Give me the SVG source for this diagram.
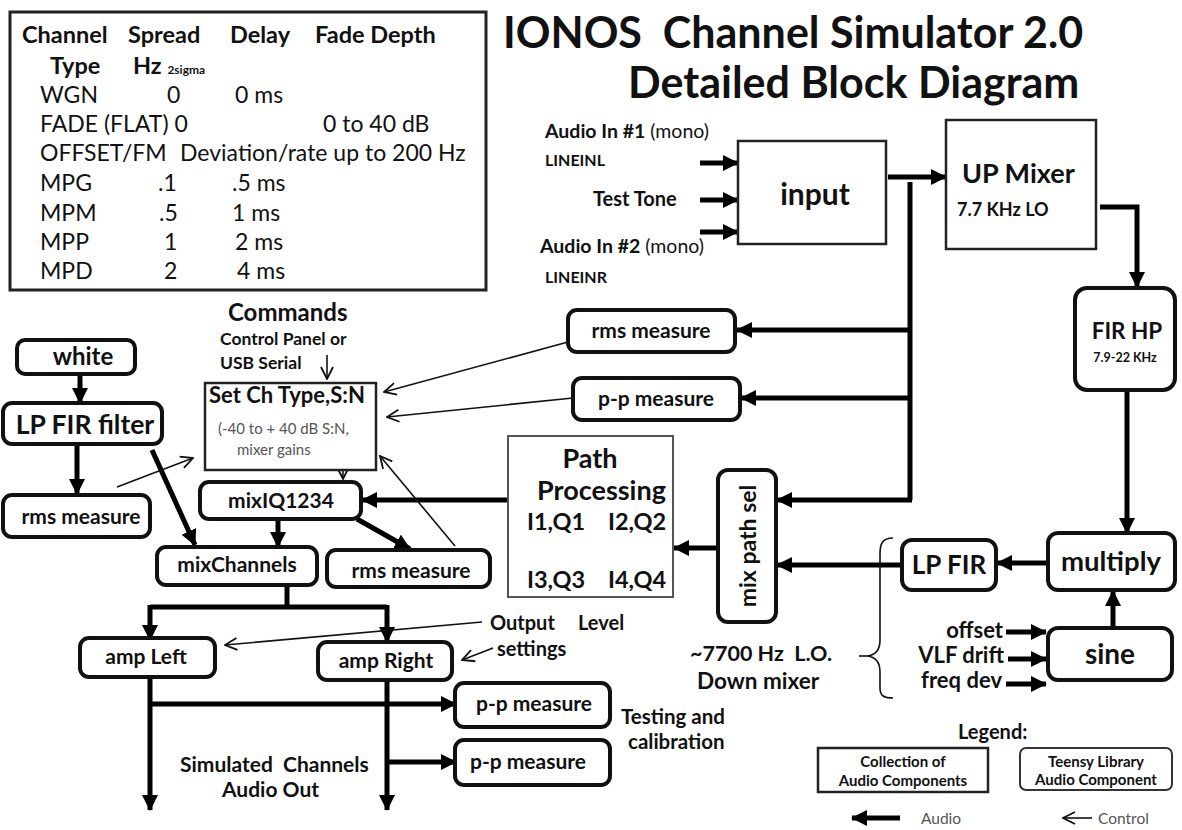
<svg xmlns="http://www.w3.org/2000/svg" width="1182" height="830" viewBox="0 0 1182 830">
  <style>
    text { font-family: Lato, "Liberation Sans", sans-serif; fill: #111; }
    .b { font-weight: bold; }
    .tbl { font-size: 23px; fill: #222; }
    .hdr { font-size: 23.5px; font-weight: bold; }
    .rbox { fill: #fff; stroke: #111; stroke-width: 4; }
    .sbox { fill: #fff; stroke: #222; stroke-width: 2.5; }
    .gbox { fill: #fff; stroke: #555; stroke-width: 2; }
    .audio { fill: none; stroke: #000; stroke-width: 5; }
    .ctl { fill: none; stroke: #111; stroke-width: 1.6; }
    .lbl { font-size: 21px; font-weight: bold; text-anchor: middle; }
    .gray { fill: #555; }
  </style>
  <defs>
    <marker id="ah" markerUnits="userSpaceOnUse" markerWidth="16" markerHeight="16" refX="15" refY="8" orient="auto">
      <path d="M0,0 L16,8 L0,16 z" fill="#000"/>
    </marker>
    <marker id="ch" markerUnits="userSpaceOnUse" markerWidth="14" markerHeight="14" refX="13" refY="7" orient="auto">
      <path d="M1,1 L13,7 L1,13" fill="none" stroke="#111" stroke-width="1.8"/>
    </marker>
  </defs>

  <rect width="1182" height="830" fill="#fff"/>

  <!-- channel type table -->
  <g id="channel-table">
    <rect x="10" y="12" width="476" height="278" fill="#fff" stroke="#222" stroke-width="3"/>
    <text class="hdr" x="22" y="43">Channel</text>
    <text class="hdr" x="128" y="43">Spread</text>
    <text class="hdr" x="230" y="43">Delay</text>
    <text class="hdr" x="315" y="43">Fade Depth</text>
    <text class="hdr" x="50" y="74">Type</text>
    <text class="hdr" x="133" y="74">Hz <tspan font-size="12">2sigma</tspan></text>
    <g class="tbl">
      <text x="40" y="103">WGN</text><text x="167" y="103">0</text><text x="235" y="103">0 ms</text>
      <text x="40" y="132">FADE (FLAT) 0</text><text x="323" y="132">0 to 40 dB</text>
      <text x="40" y="161">OFFSET/FM</text><text x="180" y="161">Deviation/rate up to 200 Hz</text>
      <text x="40" y="191">MPG</text><text x="158" y="191">.1</text><text x="232" y="191">.5 ms</text>
      <text x="40" y="221">MPM</text><text x="159" y="221">.5</text><text x="232" y="221">1 ms</text>
      <text x="40" y="250">MPP</text><text x="164" y="250">1</text><text x="235" y="250">2 ms</text>
      <text x="40" y="279">MPD</text><text x="164" y="279">2</text><text x="237" y="279">4 ms</text>
    </g>
  </g>

  <!-- title -->
  <g id="title">
    <text class="b" x="503" y="48" font-size="43" xml:space="preserve">IONOS  Channel Simulator 2.0</text>
    <text class="b" x="628" y="98" font-size="43">Detailed Block Diagram</text>
  </g>

  <!-- connectors -->
  <g id="connectors">
    <!-- audio paths -->
    <path class="audio" d="M700,163 H738" marker-end="url(#ah)"/>
    <path class="audio" d="M700,200 H738" marker-end="url(#ah)"/>
    <path class="audio" d="M700,232 H738" marker-end="url(#ah)"/>
    <path class="audio" d="M888,177 H946" marker-end="url(#ah)"/>
    <path class="audio" d="M910,182 V500"/>
    <path class="audio" d="M912,330 H737" marker-end="url(#ah)"/>
    <path class="audio" d="M912,398 H741" marker-end="url(#ah)"/>
    <path class="audio" d="M912,500 H777" marker-end="url(#ah)"/>
    <path class="audio" d="M1100,207 H1137 V287" marker-end="url(#ah)"/>
    <path class="audio" d="M1127,390 V533" marker-end="url(#ah)"/>
    <path class="audio" d="M1113,628 V591" marker-end="url(#ah)"/>
    <path class="audio" d="M1048,563 H997" marker-end="url(#ah)"/>
    <path class="audio" d="M902,565 H777" marker-end="url(#ah)"/>
    <path class="audio" d="M718,548 H674" marker-end="url(#ah)"/>
    <path class="audio" d="M508,500 H362" marker-end="url(#ah)"/>
    <path class="audio" d="M80,373 V403" marker-end="url(#ah)"/>
    <path class="audio" d="M77,444 V494" marker-end="url(#ah)"/>
    <path class="audio" d="M152,450 L195,545" marker-end="url(#ah)"/>
    <path class="audio" d="M278,519 V547" marker-end="url(#ah)"/>
    <path class="audio" d="M357,519 L410,549" marker-end="url(#ah)"/>
    <path class="audio" d="M287,585 V607"/>
    <path class="audio" d="M150,607 H387"/>
    <path class="audio" d="M150,605 V640" marker-end="url(#ah)"/>
    <path class="audio" d="M387,605 V642" marker-end="url(#ah)"/>
    <path class="audio" d="M150,677 V810" marker-end="url(#ah)"/>
    <path class="audio" d="M387,680 V810" marker-end="url(#ah)"/>
    <path class="audio" d="M150,704 H456" marker-end="url(#ah)"/>
    <path class="audio" d="M389,762 H456" marker-end="url(#ah)"/>
    <path class="audio" d="M1006,632 H1046" stroke-width="4" marker-end="url(#ah)"/>
    <path class="audio" d="M1008,659 H1046" stroke-width="4" marker-end="url(#ah)"/>
    <path class="audio" d="M1006,684 H1046" stroke-width="4" marker-end="url(#ah)"/>
    <!-- control paths -->
    <path class="ctl" d="M327,355 V379" marker-end="url(#ch)"/>
    <path class="ctl" d="M343,440 V479" marker-end="url(#ch)"/>
    <path class="ctl" d="M568,342 L384,392" marker-end="url(#ch)"/>
    <path class="ctl" d="M573,398 L387,417" marker-end="url(#ch)"/>
    <path class="ctl" d="M117,487 L193,458" marker-end="url(#ch)"/>
    <path class="ctl" d="M455,546 L380,456" marker-end="url(#ch)"/>
    <path class="ctl" d="M482,622 L225,645" marker-end="url(#ch)"/>
    <path class="ctl" d="M493,648 L462,660" marker-end="url(#ch)"/>
    <!-- L.O. brace -->
    <path class="ctl" d="M893,538 C882,538 880,544 880,554 L880,640 C880,650 876,655 867,656 C876,657 880,662 880,672 L880,688 C880,696 884,698 893,698"/>
    <path class="ctl" d="M859,656 H867"/>
  </g>

  <!-- input stage -->
  <g id="inputs">
    <text x="545" y="138" font-size="19.5"><tspan class="b">Audio In #1</tspan> (mono)</text>
    <text class="b" x="545" y="166" font-size="16">LINEINL</text>
    <text class="b" x="593" y="206" font-size="20">Test Tone</text>
    <text x="540" y="253" font-size="19.5"><tspan class="b">Audio In #2</tspan> (mono)</text>
    <text class="b" x="545" y="283" font-size="16">LINEINR</text>
  </g>
  <g id="input">
    <rect class="sbox" x="738" y="141" width="148" height="103"/>
    <text class="b" x="815" y="205" font-size="30" text-anchor="middle">input</text>
  </g>
  <g id="up-mixer">
    <rect class="sbox" x="946" y="120" width="150" height="129"/>
    <text class="b" x="962" y="183" font-size="27">UP Mixer</text>
    <text class="b" x="957" y="216" font-size="18">7.7 KHz LO</text>
  </g>
  <g id="fir-hp">
    <rect class="rbox" x="1075" y="288" width="100" height="102" rx="12"/>
    <text class="b" x="1127" y="339" font-size="22.5" text-anchor="middle">FIR HP</text>
    <text class="b" x="1125" y="362" font-size="12.5" text-anchor="middle">7.9-22 KHz</text>
  </g>
  <g id="multiply">
    <rect class="rbox" x="1048" y="533" width="127" height="57" rx="10"/>
    <text class="b" x="1111" y="571" font-size="27.5" text-anchor="middle">multiply</text>
  </g>
  <g id="sine">
    <rect class="rbox" x="1048" y="628" width="124" height="52" rx="10"/>
    <text class="b" x="1110" y="664" font-size="28" text-anchor="middle">sine</text>
  </g>
  <g id="lo-inputs">
    <text class="b" x="1003" y="638" font-size="22" text-anchor="end">offset</text>
    <text class="b" x="1004" y="663" font-size="22" text-anchor="end">VLF drift</text>
    <text class="b" x="1002" y="688" font-size="22" text-anchor="end">freq dev</text>
  </g>
  <g id="lp-fir">
    <rect class="rbox" x="902" y="540" width="94" height="50" rx="10"/>
    <text class="b" x="949" y="574" font-size="26" text-anchor="middle">LP FIR</text>
  </g>
  <g id="mix-path-sel">
    <rect class="rbox" x="718" y="470" width="58" height="152" rx="10"/>
    <text class="b" transform="translate(756,546) rotate(-90)" font-size="23" text-anchor="middle">mix path sel</text>
  </g>
  <g id="down-mixer-label">
    <text class="b" x="690" y="661" font-size="21.5" xml:space="preserve">~7700 Hz  L.O.</text>
    <text class="b" x="697" y="689" font-size="22.5">Down mixer</text>
  </g>
  <g id="path-processing">
    <rect class="gbox" x="508" y="436" width="165" height="161"/>
    <text class="b" x="590" y="468" font-size="27" text-anchor="middle">Path</text>
    <text class="b" x="537" y="500" font-size="27">Processing</text>
    <text class="b" x="527" y="530" font-size="23.5">I1,Q1</text>
    <text class="b" x="608" y="530" font-size="23.5">I2,Q2</text>
    <text class="b" x="527" y="588" font-size="23.5">I3,Q3</text>
    <text class="b" x="608" y="588" font-size="23.5">I4,Q4</text>
  </g>
  <g id="rms-measure-in">
    <rect class="rbox" x="568" y="310" width="167" height="42" rx="9"/>
    <text class="lbl" x="651" y="338" font-size="20.5">rms measure</text>
  </g>
  <g id="pp-measure-in">
    <rect class="rbox" x="573" y="378" width="167" height="42" rx="9"/>
    <text class="lbl" x="656" y="406" font-size="20.5">p-p measure</text>
  </g>

  <!-- control stage -->
  <g id="commands">
    <text class="b" x="228" y="321" font-size="24">Commands</text>
    <text class="b" x="220" y="345" font-size="17.5">Control Panel or</text>
    <text class="b" x="220" y="369" font-size="17.5">USB Serial</text>
  </g>
  <g id="set-ch-type">
    <rect class="sbox" x="205" y="383" width="171" height="87"/>
    <text class="b" x="209" y="403" font-size="22">Set Ch Type,S:N</text>
    <text class="gray" x="218" y="434" font-size="15">(-40 to + 40 dB S:N,</text>
    <text class="gray" x="237" y="455" font-size="15">mixer gains</text>
  </g>
  <g id="white">
    <rect class="rbox" x="17" y="340" width="118" height="34" rx="8"/>
    <text class="b" x="83" y="365" font-size="24" text-anchor="middle">white</text>
  </g>
  <g id="lp-fir-filter">
    <rect class="rbox" x="3" y="403" width="159" height="41" rx="9"/>
    <text class="b" x="85" y="434" font-size="26.5" text-anchor="middle">LP FIR filter</text>
  </g>
  <g id="rms-measure-noise">
    <rect class="rbox" x="3" y="495" width="147" height="42" rx="9"/>
    <text class="lbl" x="81" y="524">rms measure</text>
  </g>
  <g id="mixiq1234">
    <rect class="rbox" x="200" y="482" width="161" height="37" rx="9"/>
    <text class="lbl" x="281" y="508" font-size="21.5">mixIQ1234</text>
  </g>
  <g id="mixchannels">
    <rect class="rbox" x="157" y="547" width="160" height="38" rx="9"/>
    <text class="lbl" x="237" y="572">mixChannels</text>
  </g>
  <g id="rms-measure-mix">
    <rect class="rbox" x="327" y="550" width="163" height="37" rx="9"/>
    <text class="lbl" x="411" y="578">rms measure</text>
  </g>

  <!-- output stage -->
  <g id="amp-left">
    <rect class="rbox" x="80" y="638" width="135" height="39" rx="9"/>
    <text class="lbl" x="146" y="664" font-size="20">amp Left</text>
  </g>
  <g id="amp-right">
    <rect class="rbox" x="318" y="642" width="134" height="38" rx="9"/>
    <text class="lbl" x="386" y="668" font-size="20">amp Right</text>
  </g>
  <g id="output-level">
    <text class="b" x="490" y="630" font-size="20">Output</text>
    <text class="b" x="578" y="630" font-size="20">Level</text>
    <text class="b" x="497" y="656" font-size="20">settings</text>
  </g>
  <g id="pp-measure-left">
    <rect class="rbox" x="455" y="683" width="155" height="44" rx="9"/>
    <text class="lbl" x="534" y="711" font-size="20.5">p-p measure</text>
  </g>
  <g id="pp-measure-right">
    <rect class="rbox" x="455" y="740" width="155" height="45" rx="9"/>
    <text class="lbl" x="528" y="769" font-size="20.5">p-p measure</text>
  </g>
  <g id="testing-label">
    <text class="b" x="621" y="724" font-size="20.5">Testing and</text>
    <text class="b" x="628" y="749" font-size="20.5">calibration</text>
  </g>
  <g id="audio-out-label">
    <text class="b" x="180" y="772" font-size="21" xml:space="preserve">Simulated  Channels</text>
    <text class="b" x="222" y="797" font-size="21">Audio Out</text>
  </g>

  <!-- legend -->
  <g id="legend">
    <text class="b" x="958" y="739" font-size="20">Legend:</text>
    <rect class="sbox" x="818" y="748" width="170" height="44" stroke-width="2"/>
    <text class="b" x="903" y="767" font-size="15" text-anchor="middle">Collection of</text>
    <text class="b" x="903" y="786" font-size="15" text-anchor="middle">Audio Components</text>
    <rect x="1020" y="748" width="152" height="42" rx="6" fill="#fff" stroke="#333" stroke-width="2"/>
    <text class="b" x="1096" y="767" font-size="15" text-anchor="middle">Teensy Library</text>
    <text class="b" x="1096" y="785" font-size="15" text-anchor="middle">Audio Component</text>
    <path class="audio" d="M900,818 H852" marker-end="url(#ah)"/>
    <text class="gray" x="921" y="824" font-size="15.5">Audio</text>
    <path class="ctl" d="M1092,818 H1063" marker-end="url(#ch)"/>
    <text class="gray" x="1098" y="824" font-size="15.5">Control</text>
  </g>
</svg>
